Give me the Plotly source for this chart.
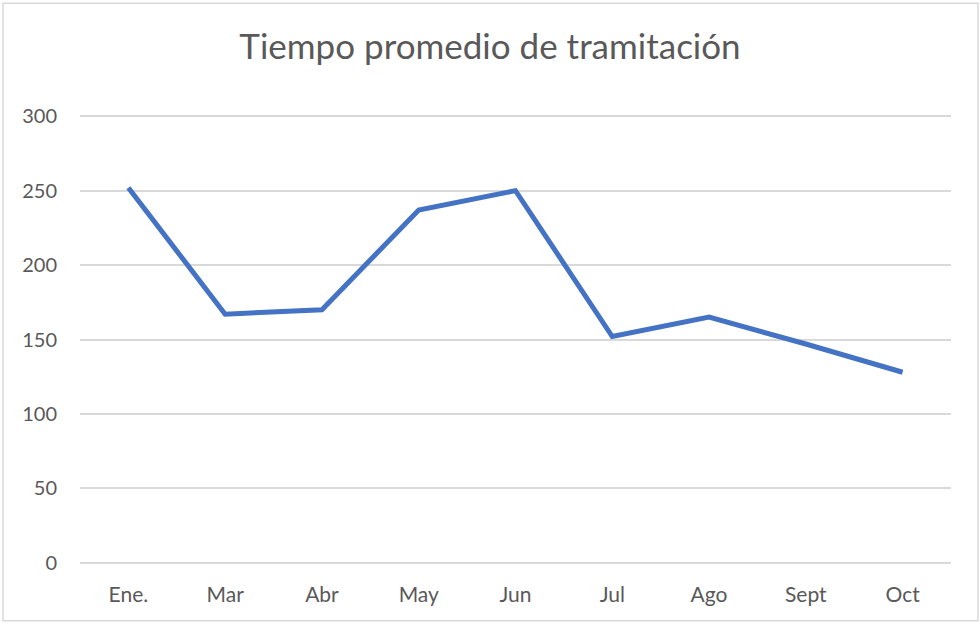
import plotly.graph_objects as go

months = ["Ene.", "Mar", "Abr", "May", "Jun", "Jul", "Ago", "Sept", "Oct"]
values = [252, 167, 170, 237, 250, 152, 165, 147, 128]
y_ticks = [0, 50, 100, 150, 200, 250, 300]

W, H = 980, 624
y_top_px, y_zero_px = 116, 563
pad = 1.5  # small range padding so edge gridlines are drawn
ppu = (y_zero_px - y_top_px) / 300
ml, mr = 80, 29
mt = y_top_px - pad * ppu
mb = H - y_zero_px - pad * ppu
pw, ph = W - ml - mr, H - mt - mb

fig = go.Figure()
fig.add_trace(go.Scatter(
    x=months, y=values, mode="lines",
    line=dict(color="#4472C4", width=5, shape="linear"),
    hoverinfo="x+y",
))

font_family = "Lato, 'Open Sans', sans-serif"
fig.update_layout(
    width=W, height=H,
    margin=dict(l=ml, r=mr, t=mt, b=mb, pad=0),
    paper_bgcolor="white", plot_bgcolor="white",
    showlegend=False,
    title=dict(text="Tiempo promedio de tramitación", x=0.5, xref="container",
               xanchor="center", y=1 - 47 / H, yref="container", yanchor="middle",
               font=dict(family=font_family, size=35, color="#595959")),
    font=dict(family=font_family, size=20, color="#595959"),
    xaxis=dict(type="category", range=[-0.5, len(months) - 0.5], showgrid=False,
               showline=False, zeroline=False, ticks="",
               ticklabelstandoff=15,
               tickfont=dict(family=font_family, size=21, color="#595959")),
    yaxis=dict(range=[-pad, 300 + pad], tickvals=y_ticks, showgrid=True, gridcolor="#D9D9D9",
               gridwidth=1.5, zeroline=False, showline=False, ticks="",
               ticklabelstandoff=22,
               tickfont=dict(family=font_family, size=20, color="#595959")),
    shapes=[dict(type="rect", xref="paper", yref="paper",
                 x0=(3 - ml) / pw, x1=(978 - ml) / pw,
                 y0=-(621 - mt - ph) / ph, y1=1 + (mt - 3) / ph,
                 line=dict(color="#D9D9D9", width=1.5), fillcolor="rgba(0,0,0,0)",
                 layer="below")],
)
fig.write_html("out.html", config={"displayModeBar": False},
               post_script="document.body.style.margin='0';document.body.style.overflow='hidden';")
